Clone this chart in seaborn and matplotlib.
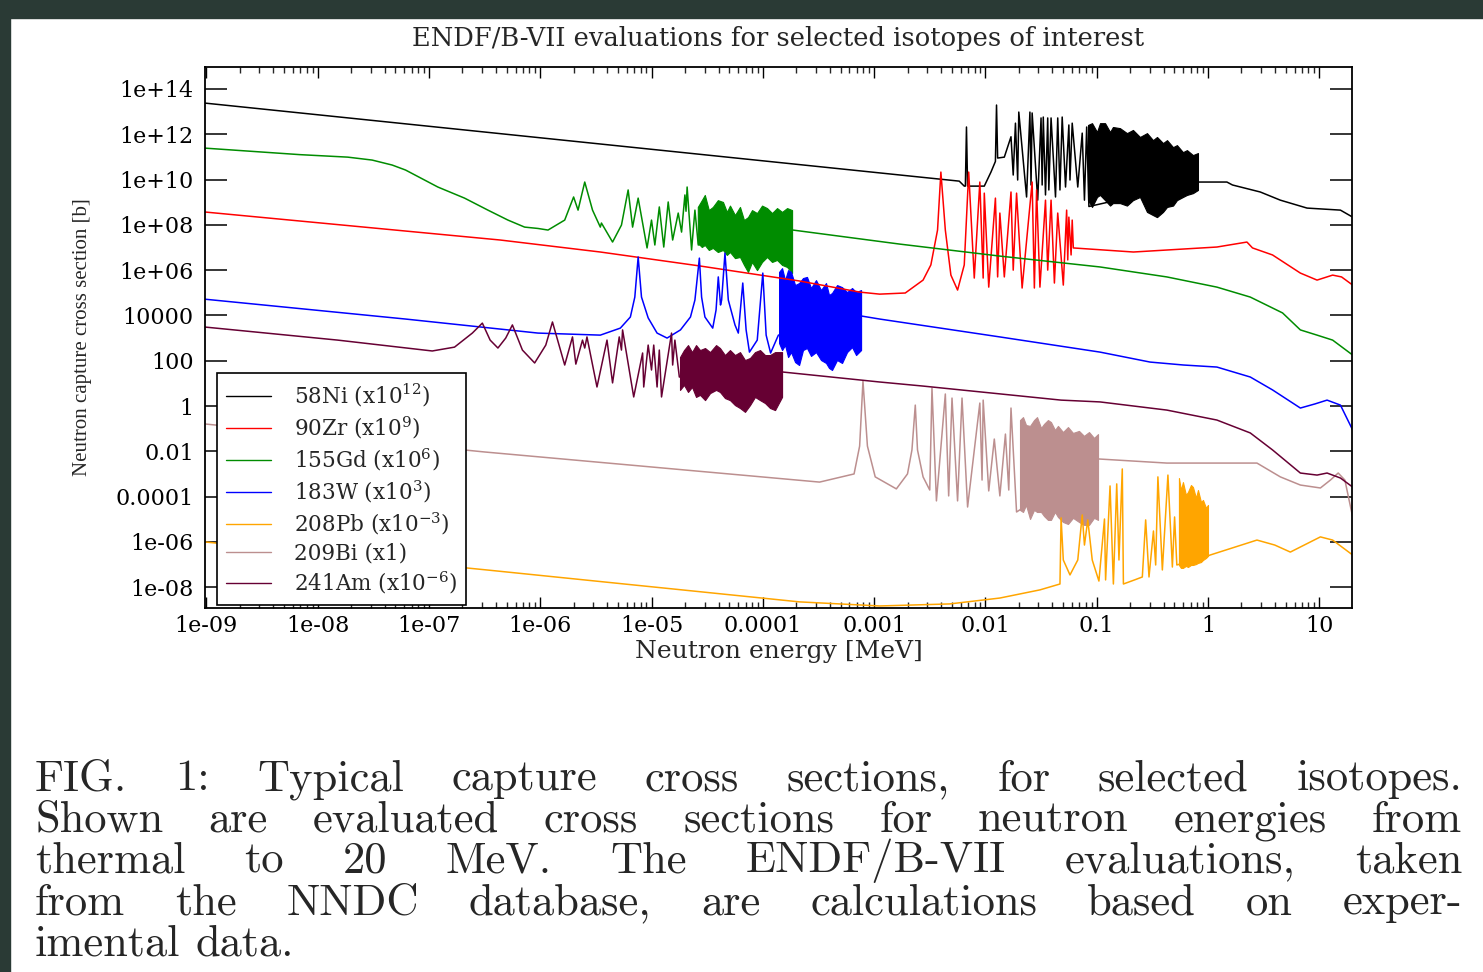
import matplotlib
matplotlib.use("Agg")
import matplotlib.pyplot as plt
from matplotlib.lines import Line2D
from matplotlib.patches import Rectangle
from matplotlib.ticker import LogLocator, NullLocator
import seaborn as sns
import numpy as np
import pandas as pd

# curves as log10(E / MeV) and log10(scaled sigma / b)
# "band" arrays give the upper/lower edge of the dense resonance regions

ni_logE = [-9.02, -2.235, -2.19, -2.18, -2.17, -2.16, -2.01, -1.95, -1.91, -1.90, -1.89, -1.83,
           -1.77, -1.75, -1.73, -1.71, -1.70, -1.63, -1.60, -1.59, -1.58, -1.53, -1.50, -1.49,
           -1.48, -1.46, -1.44, -1.43, -1.41, -1.37, -1.35, -1.33, -1.31, -1.28, -1.25, -1.24,
           -1.22, -1.17, -1.13, -1.11, -1.09, -1.07, -0.09, 0.17, 0.22, 0.47, 0.65, 0.89, 1.19, 1.30]
ni_logxs = [13.38, 9.93, 9.71, 9.71, 12.32, 9.71, 9.71, 10.33, 10.80, 13.29, 10.95, 10.99,
            11.89, 10.20, 12.49, 9.98, 12.98, 9.23, 12.98, 9.76, 12.94, 9.09, 12.72, 9.76,
            12.76, 9.32, 12.72, 9.54, 12.72, 9.23, 12.72, 9.54, 12.76, 9.67, 12.41, 9.98,
            12.49, 9.67, 12.05, 9.09, 12.32, 8.81, 9.89, 9.89, 9.76, 9.45, 9.09, 8.74, 8.65, 8.34]
ni_band_logE = [-1.078, -1.042, -0.997, -0.970, -0.925, -0.880, -0.854, -0.791, -0.728, -0.674, -0.611,
                -0.548, -0.494, -0.458, -0.404, -0.368, -0.314, -0.279, -0.225, -0.189, -0.135, -0.090]
ni_band_hi = [12.41, 12.49, 12.10, 12.49, 12.49, 12.10, 12.32, 12.27, 12.05, 12.19, 11.88,
              12.05, 11.74, 11.88, 11.61, 11.74, 11.43, 11.52, 11.21, 11.30, 11.08, 11.17]
ni_band_lo = [9.09, 8.79, 9.23, 9.32, 9.09, 8.85, 8.96, 8.96, 8.85, 9.09, 9.23,
              8.57, 8.43, 8.34, 8.57, 8.79, 8.85, 9.09, 9.23, 9.32, 9.40, 9.54]

zr_logE = [-9.02, -6.36, -5.46, -4.56, -3.67, -3.13, -2.95, -2.72, -2.56, -2.49, -2.43, -2.40,
           -2.36, -2.31, -2.25, -2.19, -2.15, -2.10, -2.05, -2.02, -2.01, -1.97, -1.91, -1.89,
           -1.87, -1.83, -1.77, -1.75, -1.72, -1.67, -1.58, -1.56, -1.54, -1.51, -1.46, -1.44,
           -1.41, -1.38, -1.35, -1.30, -1.27, -1.26, -1.25, -1.23, -1.22, -1.21, -0.67, 0.08,
           0.35, 0.40, 0.58, 0.83, 0.98, 1.12, 1.20, 1.30]
zr_logxs = [8.57, 7.33, 6.80, 6.18, 5.52, 5.03, 4.94, 4.99, 5.56, 6.23, 7.77, 10.33,
            7.77, 5.78, 5.12, 6.23, 10.33, 5.65, 9.89, 5.65, 9.40, 5.25, 9.18, 5.70,
            8.52, 5.70, 9.45, 6.00, 9.40, 5.21, 9.89, 5.21, 9.54, 5.25, 9.09, 6.00,
            9.09, 5.43, 8.52, 5.34, 8.65, 6.45, 8.34, 6.67, 8.21, 6.98, 6.80, 7.02,
            7.24, 6.98, 6.67, 5.87, 5.56, 5.78, 5.70, 5.34]

gd_logE = [-9.02, -8.16, -7.73, -7.51, -7.33, -7.21, -6.92, -6.68, -6.47, -6.29, -6.14, -6.02, -5.93,
           -5.78, -5.70, -5.66, -5.60, -5.53, -5.46, -5.45, -5.35, -5.27, -5.21, -5.17, -5.12,
           -5.04, -5.00, -4.97, -4.93, -4.89, -4.85, -4.81, -4.76, -4.73, -4.70, -4.69, -4.68,
           -4.64, -4.61, -4.58, -3.73, -2.77, -1.87, -0.97, -0.37, 0.08, 0.38, 0.67, 0.83,
           0.98, 1.12, 1.30]
gd_logxs = [11.39, 11.10, 10.99, 10.86, 10.64, 10.42, 9.67, 9.18, 8.65, 8.21, 7.90, 7.84, 7.77,
            8.21, 9.23, 8.65, 9.89, 8.65, 7.90, 8.08, 7.24, 7.99, 9.54, 7.90, 9.18,
            6.98, 8.21, 7.11, 8.79, 7.02, 9.01, 7.33, 8.52, 7.68, 9.32, 8.60, 9.67,
            6.89, 8.65, 7.11, 7.77, 7.15, 6.62, 6.14, 5.70, 5.25, 4.81, 4.11, 3.36,
            3.13, 2.91, 2.25]
gd_band_logE = [-4.584, -4.548, -4.521, -4.485, -4.449, -4.404, -4.358, -4.323, -4.295, -4.250, -4.205,
                -4.169, -4.133, -4.097, -4.052, -4.007, -3.962, -3.917, -3.872, -3.827, -3.782, -3.737]
gd_band_hi = [8.79, 9.09, 9.32, 8.65, 8.79, 9.09, 9.01, 8.57, 8.85, 8.43, 8.79,
              8.21, 8.34, 8.65, 8.52, 8.85, 8.74, 8.52, 8.74, 8.57, 8.74, 8.65]
gd_band_lo = [7.20, 7.02, 7.11, 6.89, 6.98, 6.80, 6.89, 6.67, 6.80, 6.53, 6.58,
              6.23, 5.92, 6.36, 6.00, 6.36, 6.58, 6.36, 6.45, 6.23, 6.14, 5.87]

w_logE = [-9.02, -7.21, -6.02, -5.46, -5.28, -5.19, -5.15, -5.12, -5.09, -5.03, -4.95, -4.86,
          -4.74, -4.65, -4.61, -4.57, -4.55, -4.52, -4.45, -4.42, -4.40, -4.38, -4.37, -4.34,
          -4.31, -4.25, -4.22, -4.18, -4.15, -4.12, -4.05, -4.00, -3.97, -3.93, -3.86, -3.11,
          -2.95, -1.87, -0.97, -0.52, -0.22, 0.08, 0.38, 0.58, 0.83, 0.96, 1.07, 1.19, 1.30]
w_logxs = [4.72, 3.84, 3.22, 3.13, 3.44, 3.93, 4.81, 6.58, 4.81, 3.89, 3.22, 3.00,
           3.36, 3.93, 4.68, 6.53, 4.81, 3.93, 3.44, 4.24, 5.70, 4.46, 4.68, 6.75,
           4.68, 3.58, 3.22, 5.43, 3.36, 2.38, 2.91, 5.87, 3.13, 2.34, 3.13, 3.97,
           3.84, 3.05, 2.38, 1.94, 1.81, 1.72, 1.28, 0.71, -0.09, 0.09, 0.26, 0.04, -1.06]
w_band_logE = [-3.854, -3.827, -3.800, -3.773, -3.746, -3.710, -3.674, -3.639, -3.603, -3.567, -3.522,
               -3.477, -3.432, -3.405, -3.378, -3.333, -3.288, -3.243, -3.198, -3.162, -3.117]
w_band_hi = [5.92, 6.09, 5.56, 6.00, 5.92, 5.34, 5.43, 5.65, 5.70, 5.21, 5.56,
             5.12, 5.43, 4.90, 4.99, 5.34, 5.25, 5.03, 5.21, 5.03, 5.12]
w_band_lo = [2.78, 2.47, 2.69, 2.16, 2.38, 1.94, 1.81, 2.47, 2.56, 2.21, 2.38,
             2.03, 1.90, 1.68, 1.59, 2.03, 1.90, 2.38, 2.60, 2.25, 2.47]

pb_logE = [-9.02, -6.48, -3.67, -2.95, -2.32, -1.87, -1.51, -1.33, -1.32, -1.30, -1.24, -1.17,
           -1.13, -1.11, -1.08, -1.04, -0.98, -0.93, -0.92, -0.88, -0.85, -0.82, -0.80, -0.77,
           -0.76, -0.66, -0.59, -0.56, -0.53, -0.49, -0.47, -0.45, -0.41, -0.36, -0.32, -0.30,
           -0.28, 0.00, 0.02, 0.44, 0.60, 0.74, 1.01, 1.12, 1.30]
pb_logxs = [-6.00, -7.24, -8.65, -8.83, -8.74, -8.48, -8.12, -7.86, -4.94, -6.80, -7.46, -6.80,
            -4.81, -6.14, -5.03, -6.80, -7.73, -4.99, -7.68, -3.53, -7.86, -3.44, -6.80, -2.78,
            -7.86, -7.68, -7.55, -5.03, -7.55, -5.52, -7.02, -3.13, -7.24, -3.05, -7.11, -4.90,
            -7.02, -6.62, -6.58, -5.92, -6.14, -6.45, -5.78, -5.92, -6.58]
pb_band_logE = [-0.261, -0.243, -0.225, -0.198, -0.180, -0.153, -0.135, -0.108, -0.090, -0.063,
                -0.045, -0.018, 0.000]
pb_band_hi = [-3.18, -3.71, -3.36, -3.93, -3.80, -3.49, -3.58, -4.06, -3.71, -4.24, -4.15, -4.50, -4.37]
pb_band_lo = [-7.02, -7.15, -7.15, -7.06, -7.11, -7.02, -7.02, -6.98, -6.93, -6.89, -6.80, -6.71, -6.62]

bi_logE = [-9.02, -6.50, -3.49, -3.18, -3.13, -3.10, -3.06, -2.99, -2.80, -2.70, -2.66, -2.63,
           -2.61, -2.56, -2.50, -2.48, -2.44, -2.36, -2.33, -2.30, -2.25, -2.21, -2.16, -2.05,
           -2.03, -2.02, -1.97, -1.92, -1.87, -1.82, -1.79, -1.77, -1.72, -0.98, -0.37, 0.44,
           0.65, 0.83, 1.01, 1.10, 1.17, 1.23, 1.30]
bi_logxs = [-0.79, -2.03, -3.36, -3.00, -1.77, 1.10, -1.77, -3.13, -3.66, -3.00, -1.94, 0.04,
            -1.94, -3.13, -3.71, 0.79, -4.19, 0.53, -3.97, 0.35, -4.19, 0.35, -4.46, 0.13,
            -3.27, 0.26, -3.75, -1.46, -3.97, -1.24, -3.71, -0.09, -4.68, -2.34, -2.52, -2.52,
            -3.13, -3.49, -3.62, -3.27, -2.96, -3.27, -4.90]
bi_band_logE = [-1.689, -1.662, -1.635, -1.599, -1.563, -1.536, -1.500, -1.473, -1.438, -1.411,
                -1.375, -1.348, -1.303, -1.258, -1.213, -1.159, -1.114, -1.069, -1.024, -0.988]
bi_band_hi = [-0.62, -0.49, -0.84, -0.88, -0.62, -0.49, -0.97, -0.79, -0.62, -0.71,
              -1.06, -0.88, -1.15, -0.93, -1.19, -1.10, -1.32, -1.15, -1.41, -1.24]
bi_band_lo = [-4.59, -4.68, -4.37, -4.99, -4.59, -4.68, -4.68, -4.86, -5.03, -5.03,
              -4.68, -4.90, -5.12, -5.21, -4.94, -5.12, -5.25, -5.25, -4.94, -5.03]

am_logE = [-9.02, -7.82, -6.97, -6.77, -6.61, -6.52, -6.45, -6.38, -6.31, -6.25, -6.16, -6.05,
           -5.95, -5.89, -5.78, -5.71, -5.68, -5.62, -5.60, -5.58, -5.49, -5.40, -5.35, -5.29,
           -5.27, -5.26, -5.16, -5.08, -5.07, -5.03, -5.00, -4.98, -4.95, -4.93, -4.91, -4.82,
           -4.81, -4.79, -4.75, -3.82, -2.95, -2.56, -1.32, -0.97, -0.37, 0.08, 0.38, 0.58,
           0.83, 0.98, 1.07, 1.19, 1.30]
am_logxs = [3.49, 2.91, 2.43, 2.60, 3.22, 3.66, 2.91, 2.56, 3.00, 3.58, 2.47, 1.90,
            2.69, 3.71, 1.81, 3.05, 1.85, 2.91, 2.56, 3.05, 0.84, 2.91, 1.02, 3.05,
            2.47, 3.36, 0.40, 2.34, 0.84, 2.69, 1.59, 2.69, 0.84, 2.47, 0.40, 3.22,
            1.81, 2.91, 1.28, 1.50, 1.06, 0.88, 0.26, 0.18, -0.18, -0.62, -1.19, -1.94,
            -2.96, -3.05, -2.96, -3.18, -3.58]
am_band_logE = [-4.744, -4.708, -4.672, -4.636, -4.600, -4.564, -4.519, -4.474, -4.420, -4.385, -4.340,
                -4.295, -4.250, -4.205, -4.160, -4.115, -4.070, -4.025, -3.980, -3.935, -3.890, -3.827]
am_band_hi = [2.16, 2.47, 2.69, 2.38, 2.69, 2.47, 2.56, 2.38, 2.69, 2.56, 2.25,
              2.47, 2.25, 2.38, 2.03, 2.12, 2.38, 2.47, 2.25, 2.25, 2.38, 2.38]
am_band_lo = [0.71, 0.93, 0.62, 0.84, 0.40, 0.49, 0.26, 0.57, 0.71, 0.62, 0.35,
              0.26, 0.04, -0.09, -0.26, 0.04, 0.40, 0.26, 0.13, -0.09, -0.18, 0.40]

labels = ["58Ni (x10$^{12}$)", "90Zr (x10$^{9}$)", "155Gd (x10$^{6}$)", "183W (x10$^{3}$)",
          "208Pb (x10$^{-3}$)", "209Bi (x1)", "241Am (x10$^{-6}$)"]
colors = ["#000000", "#ff0000", "#008c00", "#0000ff", "#ffa500", "#bc8f8f", "#660033"]

x_ticks = [1e-9, 1e-8, 1e-7, 1e-6, 1e-5, 1e-4, 1e-3, 1e-2, 1e-1, 1, 10]
x_ticklabels = ["1e-09", "1e-08", "1e-07", "1e-06", "1e-05", "0.0001", "0.001", "0.01", "0.1", "1", "10"]
y_ticks = [1e-8, 1e-6, 1e-4, 1e-2, 1, 1e2, 1e4, 1e6, 1e8, 1e10, 1e12, 1e14]
y_ticklabels = ["1e-08", "1e-06", "0.0001", "0.01", "1", "100", "10000",
                "1e+06", "1e+08", "1e+10", "1e+12", "1e+14"]

caption_lines = ["FIG. 1: Typical capture cross sections, for selected isotopes.",
                 "Shown are evaluated cross sections for neutron energies from",
                 "thermal to 20 MeV. The ENDF/B-VII evaluations, taken",
                 "from the NNDC database, are calculations based on exper-",
                 "imental data."]

lines_logE = [ni_logE, zr_logE, gd_logE, w_logE, pb_logE, bi_logE, am_logE]
lines_logxs = [ni_logxs, zr_logxs, gd_logxs, w_logxs, pb_logxs, bi_logxs, am_logxs]
bands = {0: (ni_band_logE, ni_band_lo, ni_band_hi),
         2: (gd_band_logE, gd_band_lo, gd_band_hi),
         3: (w_band_logE, w_band_lo, w_band_hi),
         4: (pb_band_logE, pb_band_lo, pb_band_hi),
         5: (bi_band_logE, bi_band_lo, bi_band_hi),
         6: (am_band_logE, am_band_lo, am_band_hi)}

sns.set_theme(style="ticks")
plt.rcParams["font.family"] = ["DejaVu Serif"]
plt.rcParams["mathtext.fontset"] = "dejavuserif"
plt.rcParams["axes.linewidth"] = 1.3
plt.rcParams["axes.edgecolor"] = "black"

W, H = 1483, 972
fig = plt.figure(figsize=(W / 100, H / 100), dpi=100)
fig.patch.set_facecolor("white")
# dark screen border of the screenshot
fig.patches.append(Rectangle((0, 1 - 18 / H), 1, 18 / H, transform=fig.transFigure,
                             color="#2a3a35", zorder=0))
fig.patches.append(Rectangle((0, 0), 10 / W, 1, transform=fig.transFigure,
                             color="#2a3a35", zorder=0))

ax = fig.add_axes([205 / W, 1 - 608 / H, 1147 / W, 541 / H])
ax.set_xscale("log")
ax.set_yscale("log")

frames = []
for name, le, lx in zip(labels, lines_logE, lines_logxs):
    frames.append(pd.DataFrame({"energy": 10 ** np.asarray(le),
                                "xs": 10 ** np.asarray(lx),
                                "isotope": name}))
df = pd.concat(frames, ignore_index=True)

sns.lineplot(data=df, x="energy", y="xs", hue="isotope", hue_order=labels,
             palette=dict(zip(labels, colors)), sort=False, estimator=None,
             linewidth=1.1, legend=False, ax=ax)

for i, (be, bl, bh) in bands.items():
    ax.fill_between(10 ** np.asarray(be), 10 ** np.asarray(bl), 10 ** np.asarray(bh),
                    color=colors[i], linewidth=0.8, zorder=1.9)

ax.set_xlim(10 ** -9.012, 10 ** 1.294)
ax.set_ylim(10 ** -8.92, 10 ** 14.97)

ax.set_xticks(x_ticks, labels=x_ticklabels)
ax.set_yticks(y_ticks, labels=y_ticklabels)
ax.xaxis.set_minor_locator(LogLocator(base=10, subs=np.arange(2, 10), numticks=100))
ax.yaxis.set_minor_locator(NullLocator())
ax.tick_params(axis="x", which="major", direction="in", length=8, width=1, top=True,
               labelsize=16, pad=5, colors="black")
ax.tick_params(axis="x", which="minor", direction="in", length=4, width=1, top=True)
ax.tick_params(axis="y", which="major", direction="in", length=16, width=1.1, right=True,
               labelsize=16, pad=8, colors="black")

ax.set_title("ENDF/B-VII evaluations for selected isotopes of interest", fontsize=18.5, pad=15)
ax.set_xlabel("Neutron energy [MeV]", fontsize=18)
ax.xaxis.set_label_coords(0.5, (608 - 640) / 541)
ax.set_ylabel("Neutron capture cross section [b]", family=["Liberation Serif"], fontsize=15)
ax.yaxis.set_label_coords((92 - 205) / 1147, 0.5)

handles = [Line2D([], [], color=c, lw=1.0) for c in colors]
leg = ax.legend(handles, labels, loc="lower left", bbox_to_anchor=(0.0105, 0.005),
                frameon=True, fancybox=False, framealpha=1, edgecolor="black",
                fontsize=15.5, handlelength=2.1, handletextpad=1.05, labelspacing=0.25,
                borderpad=0.42, borderaxespad=0)
leg.get_frame().set_linewidth(1.2)

# caption, justified word by word like the typeset figure
cap_fs = 32
baselines = [790, 831, 872, 914, 955]
left_px, right_px = 35, 1462
word_texts = []
for line, base in zip(caption_lines, baselines):
    ts = [fig.text(0, 1 - base / H, w, family="cmr10", fontsize=cap_fs, va="baseline", ha="left")
          for w in line.split()]
    word_texts.append(ts)
fig.canvas.draw()
renderer = fig.canvas.get_renderer()
space_px = 0.333 * cap_fs * 100 / 72
for k, ts in enumerate(word_texts):
    widths = [t.get_window_extent(renderer).width for t in ts]
    if k < len(word_texts) - 1 and len(ts) > 1:
        gap = (right_px - left_px - sum(widths)) / (len(ts) - 1)
    else:
        gap = space_px
    x = left_px
    for t, wd in zip(ts, widths):
        t.set_x(x / W)
        x += wd + gap

fig.savefig("out.png", dpi=100)
